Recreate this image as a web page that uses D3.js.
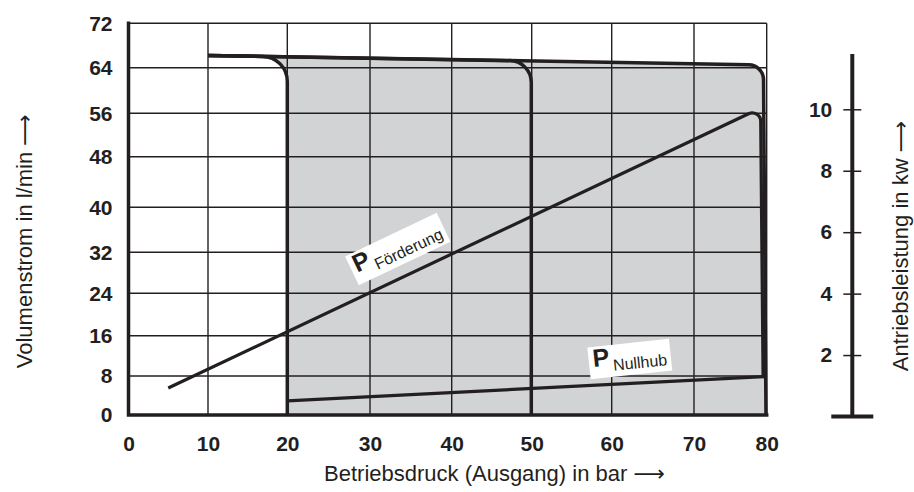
<!DOCTYPE html>
<html>
<head>
<meta charset="utf-8">
<script src="https://cdn.jsdelivr.net/npm/d3@7/dist/d3.min.js"></script>
<style>
body { margin: 0; background: #fff; }
svg text { font-family: "Liberation Sans", Arial, sans-serif; fill: #231f20; }
</style>
</head>
<body>
<div id="chart"></div>
<script>
(function() {

// axis ticks
const pressureTicks = [0, 10, 20, 30, 40, 50, 60, 70, 80];
const flowTicks = [0, 8, 16, 24, 32, 40, 48, 56, 64, 72];
const powerTicks = [2, 4, 6, 8, 10];

// Volumenstrom (bar, l/min) for the three pressure settings: start, corner, end
const flow20 = [[10, 66.2], [20, 65.96], [20, 0]];
const flow50 = [[10, 66.2], [49.95, 65.22], [49.95, 0]];
const flow80 = [[10, 66.2], [79.55, 64.49], [79.9, 0]];

// Antriebsleistung (bar, kW)
const powerFoerderung = [[5, 0.93], [79.16, 10.04], [79.5, 1.3]];
const powerNullhub = [[20, 0.51], [80, 1.3]];

const width = 914, height = 492;
const ink = "#231f20", shade = "#d1d3d4";

// the printed grid is not evenly spaced, so map tick to tick
const xPx = [128.5, 208, 287.3, 370, 451.7, 531.7, 611.7, 694, 766.7];
const yPx = [415, 376, 335.7, 293.3, 252.3, 207.3, 156.7, 113.3, 67.7, 23.3];

const x = d3.scaleLinear().domain(pressureTicks).range(xPx);
const y = d3.scaleLinear().domain(flowTicks).range(yPx);
const kw = d3.scaleLinear().domain([0, 10]).range([416.5, 109.3]);
const kwAxisX = 852.3, kwAxisTop = 11.8;

const svg = d3.select("#chart").append("svg")
	.attr("width", width)
	.attr("height", height);

// polyline with rounded corners (radius in px)
function rounded(pts, ys, r) {
	const p = d3.path();
	const P = pts.map(d => [x(d[0]), ys(d[1])]);
	p.moveTo(P[0][0], P[0][1]);
	for (let i = 1; i < P.length - 1; i++) {
		p.arcTo(P[i][0], P[i][1], P[i + 1][0], P[i + 1][1], r);
	}
	p.lineTo(P[P.length - 1][0], P[P.length - 1][1]);
	return p.toString();
}

// grey field between the 20 bar and 80 bar curves
const base = "L" + x(10) + "," + y(0) + "Z";
svg.append("path")
	.attr("d", rounded(flow80, y, 15) + base + rounded(flow20, y, 25) + base)
	.attr("fill", shade)
	.attr("fill-rule", "evenodd");

// grid
svg.append("g").selectAll("line")
	.data(pressureTicks)
	.enter().append("line")
	.attr("x1", d => x(d)).attr("x2", d => x(d))
	.attr("y1", y(0)).attr("y2", y(72))
	.attr("stroke", ink).attr("stroke-width", 1.4);

svg.append("g").selectAll("line")
	.data(flowTicks)
	.enter().append("line")
	.attr("x1", x(0)).attr("x2", x(80))
	.attr("y1", d => y(d)).attr("y2", d => y(d))
	.attr("stroke", ink).attr("stroke-width", 1.4);

// heavy left and bottom border
svg.append("path")
	.attr("d", "M" + x(0) + "," + y(72) + "V" + y(0) + "H" + x(80))
	.attr("fill", "none")
	.attr("stroke", ink)
	.attr("stroke-width", 3.5)
	.attr("stroke-linecap", "square");

// curves
[[flow20, 25], [flow50, 22], [flow80, 15]].forEach(function(c) {
	svg.append("path")
		.attr("d", rounded(c[0], y, c[1]))
		.attr("fill", "none")
		.attr("stroke", ink)
		.attr("stroke-width", 3.5);
});

[[powerFoerderung, 8.5], [powerNullhub, 0]].forEach(function(c) {
	svg.append("path")
		.attr("d", rounded(c[0], kw, c[1]))
		.attr("fill", "none")
		.attr("stroke", ink)
		.attr("stroke-width", 3.2);
});

// labels on the power lines
function addLabel(sub, pos, angle) {
	const g = svg.append("g")
		.attr("transform", "translate(" + x(pos[0]) + "," + kw(pos[1]) + ") rotate(" + angle + ")");
	const rect = g.append("rect").attr("fill", "#fff");
	const t = g.append("text").attr("y", 4);
	t.append("tspan")
		.attr("font-size", 25)
		.attr("font-weight", "bold")
		.text("P");
	t.append("tspan")
		.attr("font-size", 16)
		.attr("dx", 3)
		.attr("dy", 6)
		.text(sub);
	const bb = t.node().getBBox();
	t.attr("x", -bb.width / 2);
	const w = bb.width + 8;
	rect.attr("x", -w / 2).attr("y", -16).attr("width", w).attr("height", 32);
}
addLabel("Förderung", [33.4, 5.45], -25.5);
addLabel("Nullhub", [62.2, 1.87], -6.1);

// tick labels
const tickFont = function(sel) {
	sel.select(".domain").remove();
	sel.selectAll("text")
		.attr("font-size", 21)
		.attr("font-weight", "bold")
		.attr("fill", ink);
};

svg.append("g")
	.attr("transform", "translate(" + x(0) + ",0)")
	.call(d3.axisLeft(y).tickValues(flowTicks).tickSize(0).tickPadding(16))
	.call(tickFont);

svg.append("g")
	.attr("transform", "translate(0," + y(0) + ")")
	.call(d3.axisBottom(x).tickValues(pressureTicks).tickSize(0).tickPadding(21))
	.call(tickFont);

// separate kW scale on the right
const kwAxis = svg.append("g")
	.attr("transform", "translate(" + kwAxisX + ",0)")
	.call(d3.axisLeft(kw).tickValues(powerTicks).tickSize(9).tickPadding(11))
	.call(tickFont);
kwAxis.selectAll(".tick line")
	.attr("x1", 9)
	.attr("stroke", ink)
	.attr("stroke-width", 1.5);
kwAxis.append("line")
	.attr("y1", kw(0)).attr("y2", kw(kwAxisTop))
	.attr("stroke", ink).attr("stroke-width", 4);
kwAxis.append("line")
	.attr("x1", -21).attr("x2", 21)
	.attr("y1", kw(0)).attr("y2", kw(0))
	.attr("stroke", ink).attr("stroke-width", 4);

// axis titles, long arrow taken from DejaVu
function title(sel, label) {
	sel.attr("text-anchor", "middle").attr("font-size", 22);
	sel.append("tspan").text(label + " ");
	sel.append("tspan").attr("font-family", "DejaVu Sans").text("⟶");
}

svg.append("text")
	.attr("x", 494.5).attr("y", 480.7)
	.call(title, "Betriebsdruck (Ausgang) in bar");

svg.append("text")
	.attr("transform", "translate(31.7,241.2) rotate(-90)")
	.call(title, "Volumenstrom in l/min");

svg.append("text")
	.attr("transform", "translate(907.5,246) rotate(-90)")
	.call(title, "Antriebsleistung in kw");

})();
</script>
</body>
</html>
